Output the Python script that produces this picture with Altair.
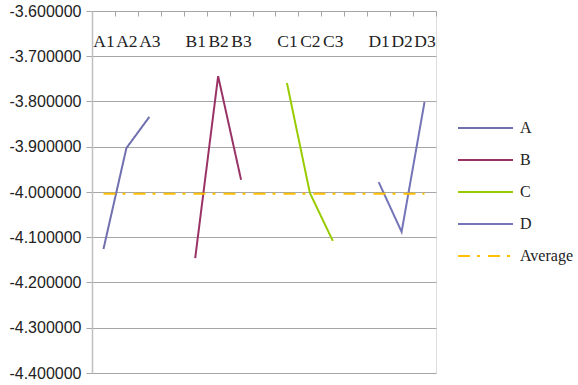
import altair as alt
import pandas as pd

# Category slots along the x axis; the "_gapN" slots separate the groups
categories = ["A1", "A2", "A3", "_gap1", "B1", "B2", "B3", "_gap2",
              "C1", "C2", "C3", "_gap3", "D1", "D2", "D3"]

series_a = ["A1", "A2", "A3"]
values_a = [-4.126, -3.903, -3.834]
series_b = ["B1", "B2", "B3"]
values_b = [-4.146, -3.744, -3.973]
series_c = ["C1", "C2", "C3"]
values_c = [-3.759, -4.002, -4.108]
series_d = ["D1", "D2", "D3"]
values_d = [-3.978, -4.088, -3.801]
average_value = -4.004
average_span = ["A1", "D3"]

y_ticks = [-3.6, -3.7, -3.8, -3.9, -4.0, -4.1, -4.2, -4.3, -4.4]

series_names = ["A", "B", "C", "D", "Average"]
series_colors = ["#7070B0", "#993366", "#99CC00", "#7474B8", "#FFC000"]
series_dashes = [[1, 0], [1, 0], [1, 0], [1, 0], [12, 7, 3, 8]]

rows = []
for name, cats, vals in [("A", series_a, values_a), ("B", series_b, values_b),
                         ("C", series_c, values_c), ("D", series_d, values_d)]:
    for i, (c, v) in enumerate(zip(cats, vals)):
        rows.append({"series": name, "cat": c, "value": v, "order": i})
for i, c in enumerate(average_span):
    rows.append({"series": "Average", "cat": c, "value": average_value, "order": i})
df = pd.DataFrame(rows)

W, H = 344, 362
step = W / len(categories)

x_enc = alt.X(
    "cat:N",
    scale=alt.Scale(type="point", domain=categories, padding=0.5),
    axis=alt.Axis(
        orient="bottom",
        offset=-H,
        title=None,
        domain=False,
        grid=False,
        ticks=True,
        tickSize=5,
        tickColor="#A6A6A6",
        tickWidth=1,
        tickOffset=step / 2,
        labelOffset=-step / 2,
        labelAngle=0,
        labelPadding=16,
        labelOverlap=False,
        labelFont="Liberation Serif",
        labelFontSize=17.5,
        labelColor="#222222",
        labelExpr="indexof(datum.label, '_') == 0 ? '' : datum.label",
    ),
)

y_enc = alt.Y(
    "value:Q",
    scale=alt.Scale(domain=[-4.4, -3.6], nice=False, zero=False),
    axis=alt.Axis(
        title=None,
        values=y_ticks,
        labelExpr="replace(format(datum.value, '.6f'), '\u2212', '-')",
        labelFont="Liberation Sans",
        labelFontSize=16,
        labelColor="#222222",
        labelPadding=5,
        tickSize=6,
        tickColor="#A6A6A6",
        domainColor="#BFBFBF",
        domainWidth=1.5,
        gridColor="#A6A6A6",
        gridWidth=1.2,
    ),
)

chart = (
    alt.Chart(df)
    .mark_line(strokeWidth=2)
    .encode(
        x=x_enc,
        y=y_enc,
        order="order:Q",
        color=alt.Color(
            "series:N",
            scale=alt.Scale(domain=series_names, range=series_colors),
            legend=alt.Legend(
                title=None,
                orient="none",
                legendX=W + 21,
                legendY=107,
                symbolType="stroke",
                symbolSize=3025,
                symbolStrokeWidth=2,
                clipHeight=20,
                rowPadding=12,
                labelFont="Liberation Serif",
                labelFontSize=16,
                labelColor="#222222",
                labelOffset=6,
            ),
        ),
        strokeDash=alt.StrokeDash(
            "series:N",
            scale=alt.Scale(domain=series_names, range=series_dashes),
            legend=None,
        ),
    )
    .properties(
        width=W,
        height=H,
        autosize=alt.AutoSizeParams(type="none"),
        padding={"left": 92, "top": 11, "right": 142, "bottom": 12},
    )
    .configure_view(stroke=None)
    .configure(background="white")
)

chart.save("out.html", embed_options={"renderer": "svg", "actions": False})
